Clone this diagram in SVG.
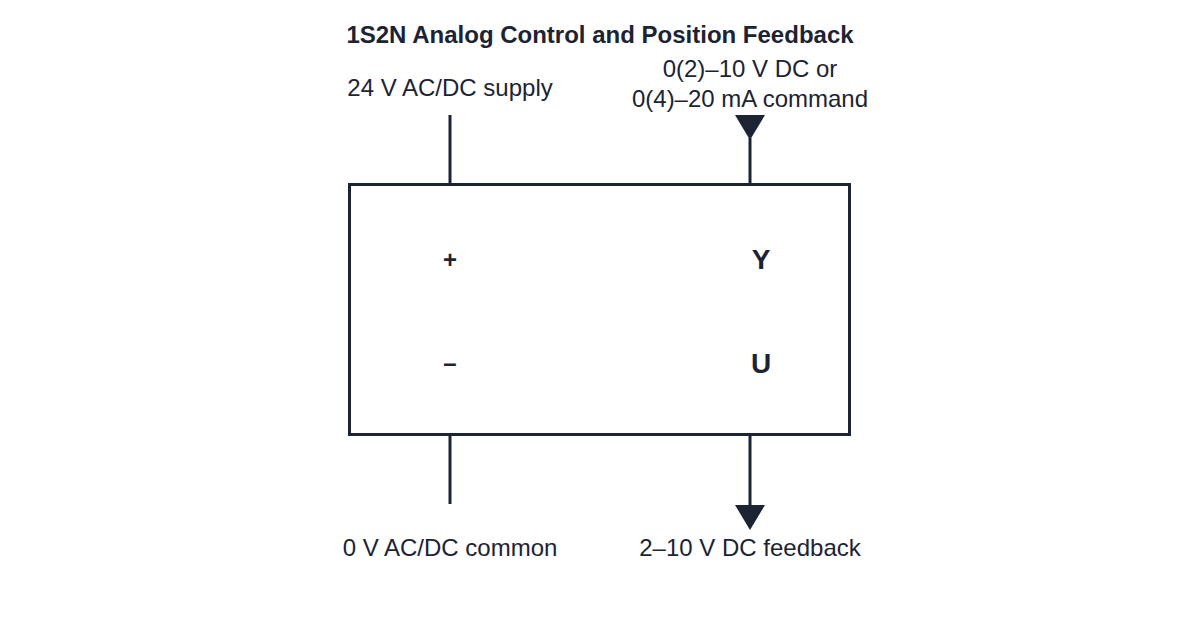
<svg xmlns="http://www.w3.org/2000/svg" width="1200" height="620" viewBox="0 0 1200 620">
<style>
text{font-family:"Liberation Sans",Arial,sans-serif;fill:#1c2333}
.t{font-size:24px;text-anchor:middle}
.b{font-weight:bold}
.ln{stroke:#1c2333;stroke-width:3;fill:none}
.ah{fill:#1c2333}
</style>
<rect width="1200" height="620" fill="#fff"/>
<text class="t b" x="600" y="43">1S2N Analog Control and Position Feedback</text>
<g id="box">
<rect class="ln" x="349.5" y="184.5" width="500" height="250"/>
<text class="t b" x="450" y="268" font-size="26">+</text>
<text class="t b" x="450" y="371" font-size="26">–</text>
<text class="t b" x="761" y="269" style="font-size:28px">Y</text>
<text class="t b" x="761" y="373" style="font-size:28px">U</text>
</g>
<g id="connectors">
<line class="ln" x1="450" y1="115" x2="450" y2="184"/>
<line class="ln" x1="450" y1="435" x2="450" y2="504"/>
<polygon class="ah" points="735,115 765,115 750,140"/>
<line class="ln" x1="750" y1="138" x2="750" y2="184"/>
<line class="ln" x1="750" y1="435" x2="750" y2="508"/>
<polygon class="ah" points="735,505 765,505 750,530"/>
</g>
<g id="labels">
<text class="t" x="450" y="96">24 V AC/DC supply</text>
<text class="t" x="750" y="77">0(2)–10 V DC or</text>
<text class="t" x="750" y="107">0(4)–20 mA command</text>
<text class="t" x="450" y="556">0 V AC/DC common</text>
<text class="t" x="750" y="556">2–10 V DC feedback</text>
</g>
</svg>
